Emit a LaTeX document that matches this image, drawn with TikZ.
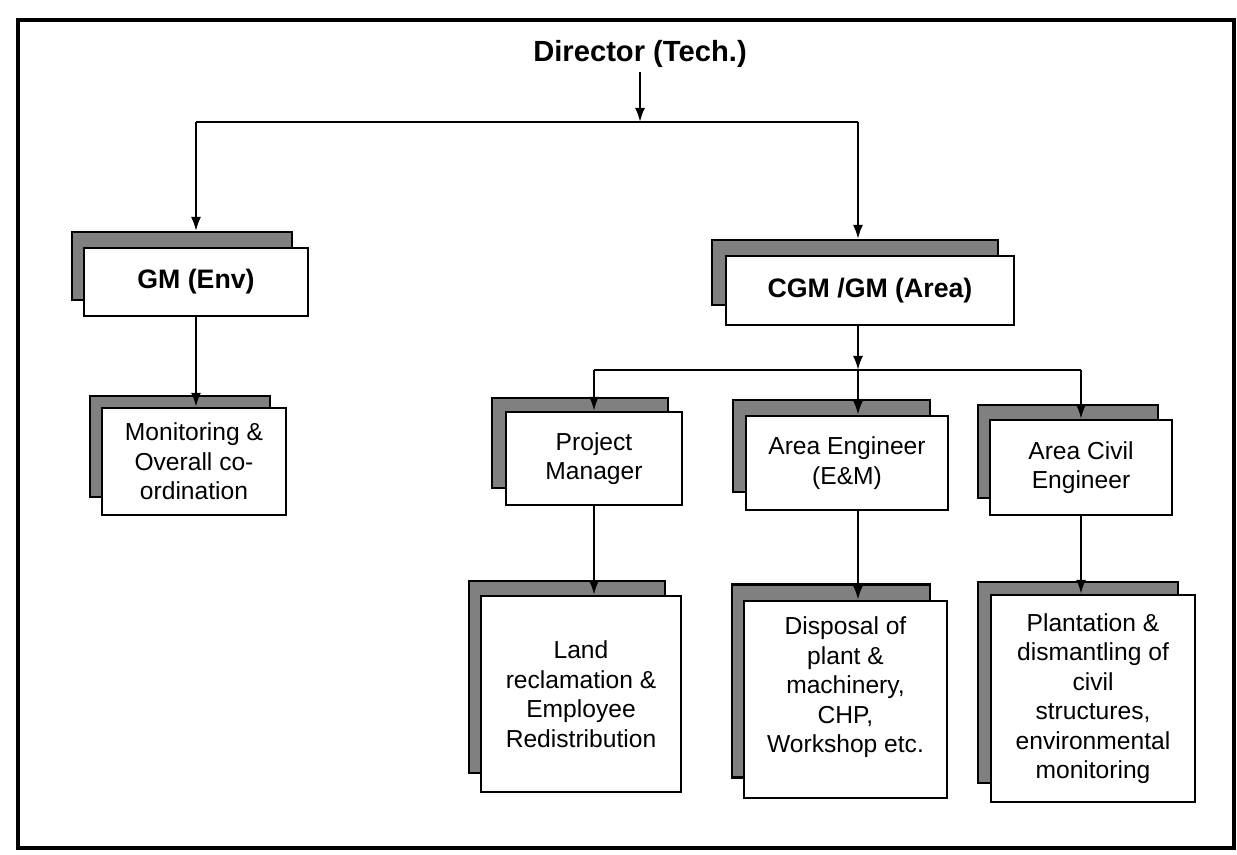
\documentclass[tikz,border=0pt]{standalone}
\usepackage{fontspec}
\setmainfont{Liberation Sans}
\usetikzlibrary{arrows.meta}
\begin{document}
\begin{tikzpicture}[x=0.1mm,y=-0.1mm,
  backbox/.style={draw=black, fill=black!50, line width=0.6pt, inner sep=0pt},
  frontbox/.style={draw=black, fill=white, line width=0.7pt, inner sep=1pt, align=center, font=\fontsize{7}{8.4}\selectfont},
  headbox/.style={frontbox, font=\fontsize{7.6}{9}\selectfont\bfseries},
  conn/.style={line width=0.6pt},
  arr/.style={line width=0.6pt, -{Latex[length=1.4mm,width=1mm]}}]
\useasboundingbox (0,0) rectangle (1237,855);
\draw[line width=1pt] (18,20) rectangle (1234,848);

\node[font=\fontsize{8.3}{10}\selectfont\bfseries, inner sep=1pt] (dir) at (640,54) {Director (Tech.)};

% GM (Env)
\node[backbox, minimum width=22mm, minimum height=6.8mm] (gmB) at (182,266) {};
\node[headbox, minimum width=22.4mm, minimum height=6.8mm] (gm) at (196,282) {GM (Env)};
% Monitoring
\node[backbox, minimum width=18mm, minimum height=10.1mm] (monB) at (180,446.5) {};
\node[frontbox, minimum width=18.4mm, minimum height=10.7mm] (mon) at (194,461.5) {Monitoring \&\\Overall co-\\ordination};
% CGM
\node[backbox, minimum width=28.6mm, minimum height=6.5mm] (cgmB) at (855,272.5) {};
\node[headbox, minimum width=28.8mm, minimum height=6.9mm] (cgm) at (870,290.5) {CGM /GM (Area)};
% Project Manager
\node[backbox, minimum width=17.6mm, minimum height=9mm] (pmB) at (580,443) {};
\node[frontbox, minimum width=17.6mm, minimum height=9.3mm] (pm) at (594,458.5) {Project\\Manager};
% Area Engineer
\node[backbox, minimum width=19.7mm, minimum height=9.2mm] (aeB) at (831.5,446) {};
\node[frontbox, minimum width=20.2mm, minimum height=9.4mm] (ae) at (847,463) {Area Engineer\\(E\&M)};
% Area Civil Engineer
\node[backbox, minimum width=18mm, minimum height=9.3mm] (aceB) at (1068,451.5) {};
\node[frontbox, minimum width=18.2mm, minimum height=9.5mm] (ace) at (1081,467.5) {Area Civil\\Engineer};
% Land
\node[backbox, minimum width=19.6mm, minimum height=19.2mm] (landB) at (567,677) {};
\node[frontbox, minimum width=20mm, minimum height=19.6mm] (land) at (581,694) {Land\\reclamation \&\\Employee\\Redistribution};
% Disposal
\node[backbox, minimum width=19.8mm, minimum height=19.3mm] (dispB) at (831,681) {};
\node[frontbox, minimum width=20.3mm, minimum height=19.7mm] (disp) at (845.5,699.5) {Disposal of\\plant \&\\machinery,\\CHP,\\Workshop etc.\\[0mm]};
% Plantation
\node[backbox, minimum width=20mm, minimum height=20.1mm] (plB) at (1078,682.5) {};
\node[frontbox, minimum width=20.4mm, minimum height=20.7mm] (pl) at (1093,698.5) {Plantation \&\\dismantling of\\civil\\structures,\\environmental\\monitoring};

% connectors
\coordinate (j1) at (640,122);
\coordinate (jL) at (196,122);
\coordinate (jR) at (858,122);
\draw[arr] (dir.south) -- (j1);
\draw[conn] (jL) -- (jR);
\draw[arr] (jL) -- (jL |- gmB.north);
\draw[arr] (jR) -- (jR |- cgmB.north);
\draw[arr] (gm.south) -- (gm.south |- mon.north);

\coordinate (j2) at (858,370);
\coordinate (jPM) at (594,370);
\coordinate (jACE) at (1081,370);
\draw[arr] (j2 |- cgm.south) -- (j2);
\draw[conn] (jPM) -- (jACE);
\draw[arr] (jPM) -- (jPM |- pm.north);
\draw[arr] (j2) -- (j2 |- ae.north);
\draw[arr] (jACE) -- (jACE |- ace.north);

\draw[arr] (pm.south) -- (pm.south |- land.north);
\draw[arr] (j2 |- ae.south) -- (j2 |- disp.north);
\draw[arr] (ace.south) -- (ace.south |- pl.north);
\end{tikzpicture}
\end{document}
